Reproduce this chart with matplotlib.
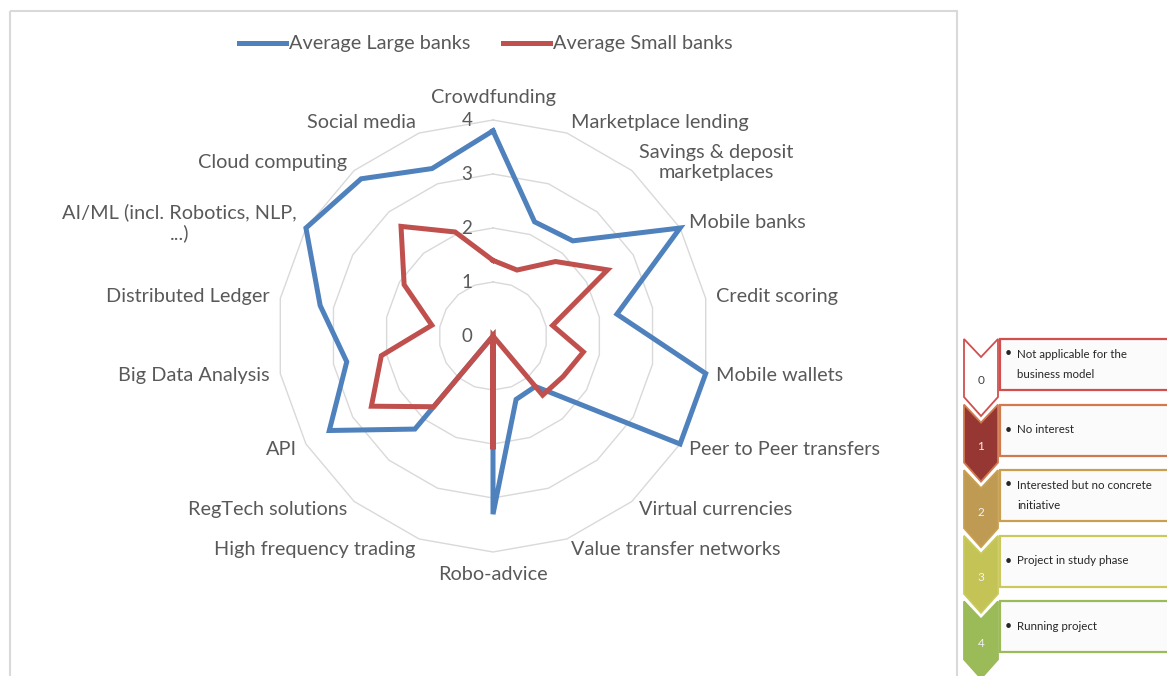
import numpy as np
import matplotlib
matplotlib.use('Agg')
import matplotlib.pyplot as plt
from matplotlib.patches import Polygon, Rectangle
from matplotlib.lines import Line2D
from matplotlib.transforms import offset_copy

plt.rcParams['font.family'] = ['Lato', 'DejaVu Sans']

categories = ['Crowdfunding', 'Marketplace lending', 'Savings & deposit\nmarketplaces',
              'Mobile banks', 'Credit scoring', 'Mobile wallets', 'Peer to Peer transfers',
              'Virtual currencies', 'Value transfer networks', 'Robo-advice',
              'High frequency trading', 'RegTech solutions', 'API', 'Big Data Analysis',
              'Distributed Ledger', 'AI/ML (incl. Robotics, NLP,\n...)', 'Cloud computing',
              'Social media']
large_banks = [3.8, 2.25, 2.3, 4.0, 2.33, 4.0, 4.0, 1.22, 1.25, 3.3,
               0.0, 2.25, 3.5, 2.75, 3.25, 4.0, 3.8, 3.3]
small_banks = [1.4, 1.3, 1.8, 2.45, 1.12, 1.7, 1.5, 1.43, 0.0, 2.1,
               0.0, 1.71, 2.6, 2.1, 1.15, 1.9, 2.65, 2.05]
rings = [0, 1, 2, 3, 4]

scale_labels = ['0', '1', '2', '3', '4']
scale_text = ['Not applicable for the\nbusiness model', 'No interest',
              'Interested but no concrete\ninitiative', 'Project in study phase',
              'Running project']
scale_fill = ['white', '#963734', '#bf9a52', '#c3c356', '#9bbb59']
scale_edge = ['#d0504f', '#d07a4e', '#c9a052', '#c9c95e', '#9bbb59']

W, H = 1167, 676
fig = plt.figure(figsize=(W / 100, H / 100), dpi=100)

# background layer in pixel coordinates: chart frame and the scale diagram
bg = fig.add_axes([0, 0, 1, 1])
bg.set_xlim(0, W)
bg.set_ylim(H, 0)
bg.axis('off')
bg.add_patch(Rectangle((10, 11), 947, 700, fill=False, edgecolor='#d9d9d9', lw=1.5))

for i, (lab, txt) in enumerate(zip(scale_labels, scale_text)):
    y0 = 339 + 65.6 * i
    chevron = [(964, y0), (981, y0 + 18), (998, y0), (998, y0 + 58),
               (981, y0 + 77), (964, y0 + 58)]
    bg.add_patch(Rectangle((1000, y0), 180, 51, facecolor='#fbfbfb',
                           edgecolor=scale_edge[i], lw=1.6))
    bg.add_patch(Polygon(chevron, closed=True, facecolor=scale_fill[i],
                         edgecolor=scale_edge[i], lw=1.3))
    bg.text(981, y0 + 42, lab, ha='center', va='center', fontsize=8.5,
            color='#404040' if i == 0 else '#f2f2f2')
    first = y0 + 14 if '\n' in txt else y0 + 25
    bg.text(1008, first, '•', ha='center', va='center', fontsize=9, color='#262626')
    bg.text(1017, y0 + 25, txt, ha='left', va='center', fontsize=8.3,
            color='#262626', linespacing=2.0)

# radar chart
cx, cy, rad = 493, 336, 216
ax = fig.add_axes([(cx - rad) / W, (H - cy - rad) / H, 2 * rad / W, 2 * rad / H],
                  projection='polar')
ax.set_theta_zero_location('N')
ax.set_theta_direction(-1)
ax.set_ylim(0, 4)
ax.set_xticks([])
ax.set_yticks([])
ax.grid(False)
ax.spines['polar'].set_visible(False)
ax.patch.set_visible(False)

n = len(categories)
theta = np.arange(n) * 2 * np.pi / n
closed = np.append(theta, theta[0])

for r in rings[1:]:
    ax.plot(closed, [r] * (n + 1), color='#d9d9d9', lw=1.0, clip_on=False, zorder=1)

ax.plot(closed, large_banks + large_banks[:1], color='#4f81bd', lw=3.6,
        clip_on=False, zorder=3, solid_joinstyle='miter')
ax.plot(closed, small_banks + small_banks[:1], color='#c0504d', lw=3.6,
        clip_on=False, zorder=4, solid_joinstyle='miter')

tick_tr = offset_copy(ax.transData, fig=fig, x=-26, y=0, units='dots')
for r, s in zip(rings, scale_labels):
    ax.text(0, r, s, transform=tick_tr, ha='center', va='center',
            fontsize=13.5, color='#595959')

for t, lab in zip(theta, categories):
    s = np.sin(t)
    c = np.cos(t)
    if abs(s) < 0.01:
        ax.text(t, 4.26, lab, ha='center', va='bottom' if c > 0 else 'top',
                fontsize=14.3, color='#595959', clip_on=False)
    else:
        ax.text(t, 4.2, lab, ha='left' if s > 0 else 'right', va='center',
                multialignment='center', fontsize=14.3, color='#595959',
                clip_on=False, linespacing=1.2)

handles = [Line2D([], [], color='#4f81bd', lw=3.6),
           Line2D([], [], color='#c0504d', lw=3.6)]
fig.legend(handles, ['Average Large banks', 'Average Small banks'], ncol=2,
           loc='center', bbox_to_anchor=(486 / W, 1 - 44 / H), frameon=False,
           fontsize=14.3, handlelength=2.36, handletextpad=0.15, columnspacing=1.66,
           labelcolor='#595959')

fig.savefig('out.png', dpi=100)
